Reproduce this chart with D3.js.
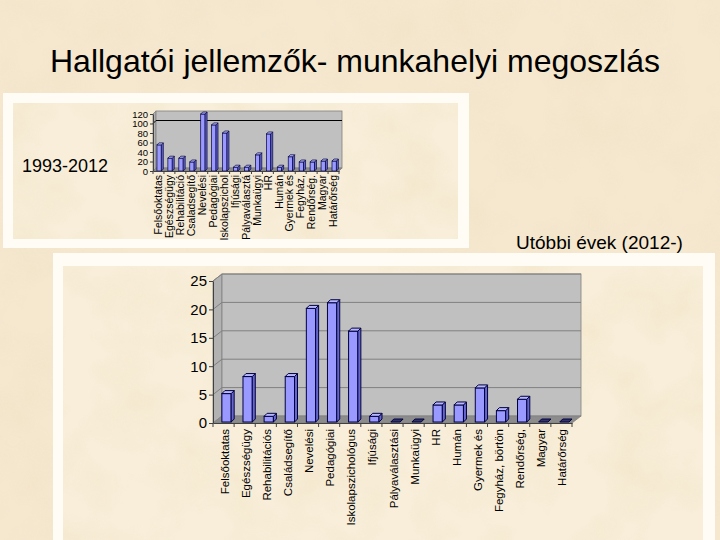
<!DOCTYPE html>
<html>
<head>
<meta charset="utf-8">
<script src="https://cdn.jsdelivr.net/npm/d3@7"></script>
<style>
  body { margin: 0; background: #f4e6cb; }
  text { font-family: "Liberation Sans", Arial, sans-serif; }
</style>
</head>
<body>
<div id="slide"></div>
<script>

const slideTitle = "Hallgatói jellemzők- munkahelyi megoszlás";

// 1993-2012 (small chart)
const topCategories = ["Felsőoktatas", "Egészségügy", "Rehabilitáció", "Csaladsegítő", "Nevelési",
  "Pedagógiai", "Iskolapszichol", "Ifjúsági", "Pályaválasztá", "Munkaügyi", "HR", "Humán",
  "Gyermek és", "Fegyház,", "Rendőrség.", "Magyar", "Határőrség"];
const topValues = [55, 27, 27, 19, 120, 97, 80, 8, 8, 34, 78, 8, 30, 19, 19, 21, 21];
const topTicks = [0, 20, 40, 60, 80, 100, 120];
const topGrid = [100];

// Utóbbi évek (big chart)
const bottomCategories = ["Felsőoktatas", "Egészségügy", "Rehabilitációs", "Családsegítő", "Nevelési",
  "Pedagógiai", "Iskolapszichológus", "Ifjúsági", "Pályaválasztási", "Munkaügyi", "HR", "Humán",
  "Gyermek és", "Fegyház, börtön", "Rendőrség,", "Magyar", "Határőrség"];
const bottomValues = [5, 8, 1, 8, 20, 21, 16, 1, 0, 0, 3, 3, 6, 2, 4, 0, 0];
const bottomTicks = [0, 5, 10, 15, 20, 25];
const bottomGrid = [5, 10, 15, 20, 25];

const W = 720, H = 540;

const svg = d3.select("#slide").append("svg")
  .attr("width", W)
  .attr("height", H);

// parchment texture
const defs = svg.append("defs");
const paper = defs.append("filter").attr("id", "paper")
  .attr("x", 0).attr("y", 0).attr("width", "100%").attr("height", "100%");
paper.append("feTurbulence")
  .attr("type", "fractalNoise")
  .attr("baseFrequency", "0.018")
  .attr("numOctaves", 3)
  .attr("seed", 7);
paper.append("feColorMatrix")
  .attr("type", "matrix")
  .attr("values", "0 0 0 0 0.88  0 0 0 0 0.76  0 0 0 0 0.55  1.2 0 0 0 -0.5");

function parchment(x, y, w, h, base) {
  svg.append("rect").attr("x", x).attr("y", y).attr("width", w).attr("height", h).attr("fill", base);
  svg.append("rect").attr("x", x).attr("y", y).attr("width", w).attr("height", h)
    .attr("filter", "url(#paper)").attr("opacity", 0.9);
}

parchment(0, 0, W, H, "#f5e8cf");

// title
svg.append("text")
  .attr("x", 355)
  .attr("y", 72)
  .attr("text-anchor", "middle")
  .style("font-size", "32px")
  .style("fill", "#000")
  .text(slideTitle);

// picture frames
svg.append("rect").attr("x", 3).attr("y", 93).attr("width", 466).attr("height", 155).attr("fill", "#fffcf6");
parchment(13, 103, 445, 136, "#f8eed9");
svg.append("rect").attr("x", 53).attr("y", 253).attr("width", 662).attr("height", 290).attr("fill", "#fffcf6");
parchment(63, 266, 640, 280, "#f8eed9");

svg.append("text")
  .attr("x", 22)
  .attr("y", 172)
  .style("font-size", "18px")
  .text("1993-2012");

svg.append("text")
  .attr("x", 516)
  .attr("y", 249)
  .style("font-size", "19px")
  .text("Utóbbi évek (2012-)");

// Excel style 3D column chart
function chart3d(cfg) {
  const x = d3.scaleBand()
    .domain(cfg.categories)
    .range([cfg.left, cfg.right]);

  const y = d3.scaleLinear()
    .domain([0, cfg.max])
    .range([cfg.bottom, cfg.top]);

  const dx = cfg.depth[0], dy = cfg.depth[1];
  const g = svg.append("g");
  const y0 = y(0), yMax = y(cfg.max);

  // side wall
  g.append("path")
    .attr("d", `M${cfg.left},${yMax}L${cfg.left + dx},${yMax - dy}L${cfg.left + dx},${y0 - dy}L${cfg.left},${y0}Z`)
    .attr("fill", "#b2b2b2")
    .attr("stroke", "#808080")
    .attr("stroke-width", 0.8);

  // back wall
  g.append("rect")
    .attr("x", cfg.left + dx)
    .attr("y", yMax - dy)
    .attr("width", cfg.right - cfg.left)
    .attr("height", y0 - yMax)
    .attr("fill", "#c0c0c0")
    .attr("stroke", "#808080")
    .attr("stroke-width", 0.8);

  // floor
  g.append("path")
    .attr("d", `M${cfg.left},${y0}L${cfg.left + dx},${y0 - dy}L${cfg.right + dx},${y0 - dy}L${cfg.right},${y0}Z`)
    .attr("fill", "#8c8c8c")
    .attr("stroke", "#808080")
    .attr("stroke-width", 0.8);

  // gridlines on back wall
  g.selectAll(".grid")
    .data(cfg.grid)
    .enter()
    .append("path")
    .attr("d", d => `M${cfg.left},${y(d)}L${cfg.left + dx},${y(d) - dy}L${cfg.right + dx},${y(d) - dy}`)
    .attr("fill", "none")
    .attr("stroke", cfg.gridColor)
    .attr("stroke-width", cfg.gridWidth);

  // bars
  const bw = x.bandwidth();
  const bdx = cfg.barDepth[0], bdy = cfg.barDepth[1];
  const bars = g.selectAll(".bar")
    .data(cfg.categories.map((c, i) => ({ cat: c, value: cfg.values[i] })))
    .enter()
    .append("g")
    .attr("class", "bar");

  bars.each(function (d) {
    const b = d3.select(this);
    const bx = x(d.cat) + bw * cfg.barOffset;
    const w = bw * cfg.barWidth;
    const top = y(d.value) - cfg.lift;
    const bot = y0 - cfg.lift;
    if (d.value > 0) {
      b.append("rect")
        .attr("x", bx).attr("y", top)
        .attr("width", w).attr("height", bot - top)
        .attr("fill", "#9999ff")
        .attr("stroke", "#000040")
        .attr("stroke-width", cfg.barStroke);
      b.append("path")
        .attr("d", `M${bx + w},${top}L${bx + w + bdx},${top - bdy}L${bx + w + bdx},${bot - bdy}L${bx + w},${bot}Z`)
        .attr("fill", "#6666cc")
        .attr("stroke", "#000040")
        .attr("stroke-width", cfg.barStroke);
    }
    b.append("path")
      .attr("d", `M${bx},${top}L${bx + bdx},${top - bdy}L${bx + w + bdx},${top - bdy}L${bx + w},${top}Z`)
      .attr("fill", d.value > 0 ? "#b8b8ff" : "#333366")
      .attr("stroke", "#000040")
      .attr("stroke-width", cfg.barStroke);
  });

  // y axis
  const yAxis = g.append("g")
    .attr("transform", `translate(${cfg.left},0)`)
    .call(d3.axisLeft(y).tickValues(cfg.ticks).tickSize(cfg.tickLen).tickSizeOuter(0).tickPadding(2));
  yAxis.select(".domain").attr("stroke", "#404040");
  yAxis.selectAll(".tick line").attr("stroke", "#404040");
  yAxis.selectAll("text")
    .style("font-size", cfg.yFont)
    .style("font-family", "'Liberation Sans', Arial, sans-serif")
    .attr("fill", "#000");

  // x axis: labels at band centres, ticks at band boundaries
  const xAxis = g.append("g")
    .attr("transform", `translate(0,${y0})`)
    .call(d3.axisBottom(x).tickSize(0).tickSizeOuter(0));
  xAxis.select(".domain").attr("stroke", "#404040");
  xAxis.selectAll("text")
    .attr("transform", "rotate(-90)")
    .attr("x", -cfg.labelGap)
    .attr("y", cfg.labelShift)
    .attr("dy", "0.35em")
    .style("text-anchor", "end")
    .style("font-size", cfg.xFont)
    .style("font-family", "'Liberation Sans', Arial, sans-serif")
    .attr("fill", "#000");

  g.selectAll(".xtick")
    .data(cfg.categories.map(c => x(c)).concat([cfg.right]))
    .enter()
    .append("line")
    .attr("x1", d => d).attr("x2", d => d)
    .attr("y1", y0).attr("y2", y0 + cfg.tickLen)
    .attr("stroke", "#404040");
}

chart3d({
  categories: topCategories,
  values: topValues,
  ticks: topTicks,
  grid: topGrid,
  gridColor: "#000",
  gridWidth: 1,
  max: 120,
  left: 153, right: 339,
  top: 114, bottom: 171,
  depth: [3, 3],
  barDepth: [2, 2],
  barOffset: 0.36, barWidth: 0.4,
  barStroke: 0.7,
  lift: 0,
  tickLen: 3,
  yFont: "9.5px",
  xFont: "10.5px",
  labelGap: 4,
  labelShift: 0
});

chart3d({
  categories: bottomCategories,
  values: bottomValues,
  ticks: bottomTicks,
  grid: bottomGrid,
  gridColor: "#808080",
  gridWidth: 1,
  max: 25,
  left: 213, right: 572,
  top: 281, bottom: 423,
  depth: [9, 7],
  barDepth: [3, 3],
  barOffset: 0.42, barWidth: 0.44,
  barStroke: 1,
  lift: 1,
  tickLen: 4,
  yFont: "15px",
  xFont: "11.5px",
  labelGap: 6,
  labelShift: 1
});
</script>
</body>
</html>
